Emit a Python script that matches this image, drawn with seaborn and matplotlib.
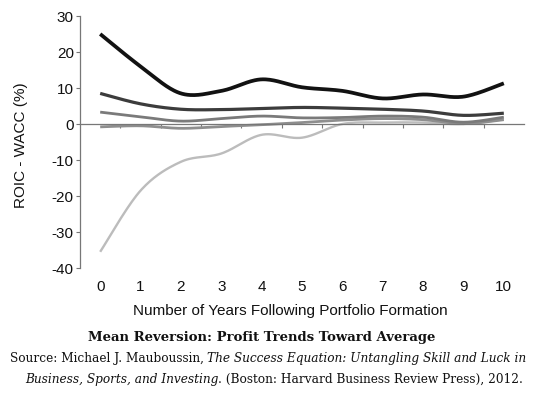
import numpy as np
import pandas as pd
import matplotlib
matplotlib.use("Agg")
import matplotlib.pyplot as plt
import seaborn as sns

# ---- data ----
years = [0, 1, 2, 3, 4, 5, 6, 7, 8, 9, 10]
x_tick_labels = ["0", "1", "2", "3", "4", "5", "6", "7", "8", "9", "10"]
y_ticks = [30, 20, 10, 0, -10, -20, -30, -40]
q1 = [25.0, 16.0, 8.5, 9.2, 12.4, 10.2, 9.2, 7.1, 8.2, 7.6, 11.3]
q2 = [8.5, 5.6, 4.1, 4.0, 4.3, 4.6, 4.4, 4.1, 3.6, 2.4, 3.0]
q3 = [3.3, 2.0, 0.8, 1.5, 2.2, 1.7, 1.8, 2.2, 1.9, 0.5, 1.9]
q4 = [-0.8, -0.5, -1.2, -0.7, -0.2, 0.4, 1.1, 1.5, 1.2, 0.1, 1.2]
q5 = [-35.5, -18.5, -10.5, -8.2, -3.0, -3.8, 0.0, 0.4, 0.4, 0.0, 1.3]
series = {"Q1": q1, "Q2": q2, "Q3": q3, "Q4": q4, "Q5": q5}

colors = {"Q1": "#121212", "Q2": "#3c3c3c", "Q3": "#7a7a7a", "Q4": "#8e8e8e", "Q5": "#bcbcbc"}
widths = {"Q1": 2.7, "Q2": 2.3, "Q3": 2.0, "Q4": 2.0, "Q5": 1.7}


def smooth(xs, ys, n=30):
    """Catmull-Rom style Bezier smoothing (like Excel's smoothed line)."""
    xs = np.asarray(xs, float)
    ys = np.asarray(ys, float)
    P = np.column_stack([xs, ys])
    out = []
    for i in range(len(P) - 1):
        p0 = P[i - 1] if i > 0 else P[i]
        p1 = P[i]
        p2 = P[i + 1]
        p3 = P[i + 2] if i + 2 < len(P) else P[i + 1]
        c1 = p1 + (p2 - p0) / 6.0
        c2 = p2 - (p3 - p1) / 6.0
        t = np.linspace(0, 1, n, endpoint=(i == len(P) - 2))[:, None]
        seg = ((1 - t) ** 3) * p1 + 3 * ((1 - t) ** 2) * t * c1 + 3 * (1 - t) * t ** 2 * c2 + t ** 3 * p2
        out.append(seg)
    arr = np.vstack(out)
    return arr[:, 0], arr[:, 1]


rows = []
for name, vals in series.items():
    sx, sy = smooth(years, vals)
    for a, b in zip(sx, sy):
        rows.append({"x": a, "y": b, "series": name})
df = pd.DataFrame(rows)

sns.set_style("white")
plt.rcParams["font.family"] = ["Liberation Sans", "DejaVu Sans"]

fig = plt.figure(figsize=(5.33, 3.93), dpi=100)
ax = fig.add_axes([80 / 533, 1 - 268 / 393, (524 - 80) / 533, (268 - 16) / 393])

for name in ["Q5", "Q4", "Q3", "Q2", "Q1"]:
    sub = df[df["series"] == name]
    sns.lineplot(data=sub, x="x", y="y", ax=ax, color=colors[name],
                 linewidth=widths[name], sort=False, estimator=None,
                 legend=False, solid_capstyle="butt")

ax.set_xlim(-0.5, 10.5)
ax.set_ylim(-40, 30)
ax.set_yticks(y_ticks)
ax.set_yticklabels([str(v) for v in y_ticks], fontsize=11, color="#111111")
ax.tick_params(axis="y", length=3, width=0.8, color="#777777", pad=1.5, left=True, direction="out")

# x axis: spine at y=0 with ticks between categories, labels at bottom
ax.spines["top"].set_visible(False)
ax.spines["right"].set_visible(False)
ax.spines["left"].set_color("#777777")
ax.spines["left"].set_linewidth(0.9)
ax.spines["bottom"].set_position(("data", 0))
ax.spines["bottom"].set_color("#777777")
ax.spines["bottom"].set_linewidth(0.9)
ax.set_xticks([v + 0.5 for v in years[:-1]])
ax.set_xticklabels([])
ax.tick_params(axis="x", length=3, width=0.8, color="#777777", bottom=True, direction="out")

for v, lab in zip(years, x_tick_labels):
    ax.text(v, -0.075, lab, transform=ax.get_xaxis_transform(), ha="center", va="center",
            fontsize=11, color="#111111")

ax.set_xlabel("")
ax.set_ylabel("")
fig.text(290 / 533, 1 - 311 / 393,
         "Number of Years Following Portfolio Formation", ha="center", va="center",
         fontsize=11, color="#111111")
fig.text(21 / 533, 1 - 145 / 393, "ROIC - WACC (%)", rotation=90, ha="center", va="center",
         fontsize=11, color="#111111")

# caption
serif = ["DejaVu Serif"]
fig.text(262 / 533, 1 - 338 / 393, "Mean Reversion: Profit Trends Toward Average",
         ha="center", va="center", fontsize=9.5, fontweight="bold", family=serif, color="#111111")

line1 = [("Source: Michael J. Mauboussin, ", "normal"),
         ("The Success Equation: Untangling Skill and Luck in", "italic")]
line2 = [("Business, Sports, and Investing", "italic"),
         (". (Boston: Harvard Business Review Press), 2012.", "normal")]


def chain(parts, y_px, fs):
    first = None
    prev = None
    arts = []
    for txt, style in parts:
        if prev is None:
            t = fig.text(0, 1 - y_px / 393, txt, ha="left", va="bottom", fontsize=fs,
                         style=style, family=serif, color="#111111")
            first = t
        else:
            t = ax.annotate(txt, xy=(1, 0), xycoords=prev, ha="left", va="bottom",
                            fontsize=fs, style=style, family=serif, color="#111111",
                            annotation_clip=False)
        arts.append(t)
        prev = t
    return first, arts


f1, a1 = chain(line1, 365, 8.7)
f2, a2 = chain(line2, 386, 8.7)

fig.canvas.draw()
r = fig.canvas.get_renderer()
for first, arts, center in [(f1, a1, 268), (f2, a2, 274)]:
    x0 = arts[0].get_window_extent(r).x0
    x1 = arts[-1].get_window_extent(r).x1
    w = x1 - x0
    first.set_x((center - w / 2) / 533)

fig.savefig("out.png", dpi=100, facecolor="white")
